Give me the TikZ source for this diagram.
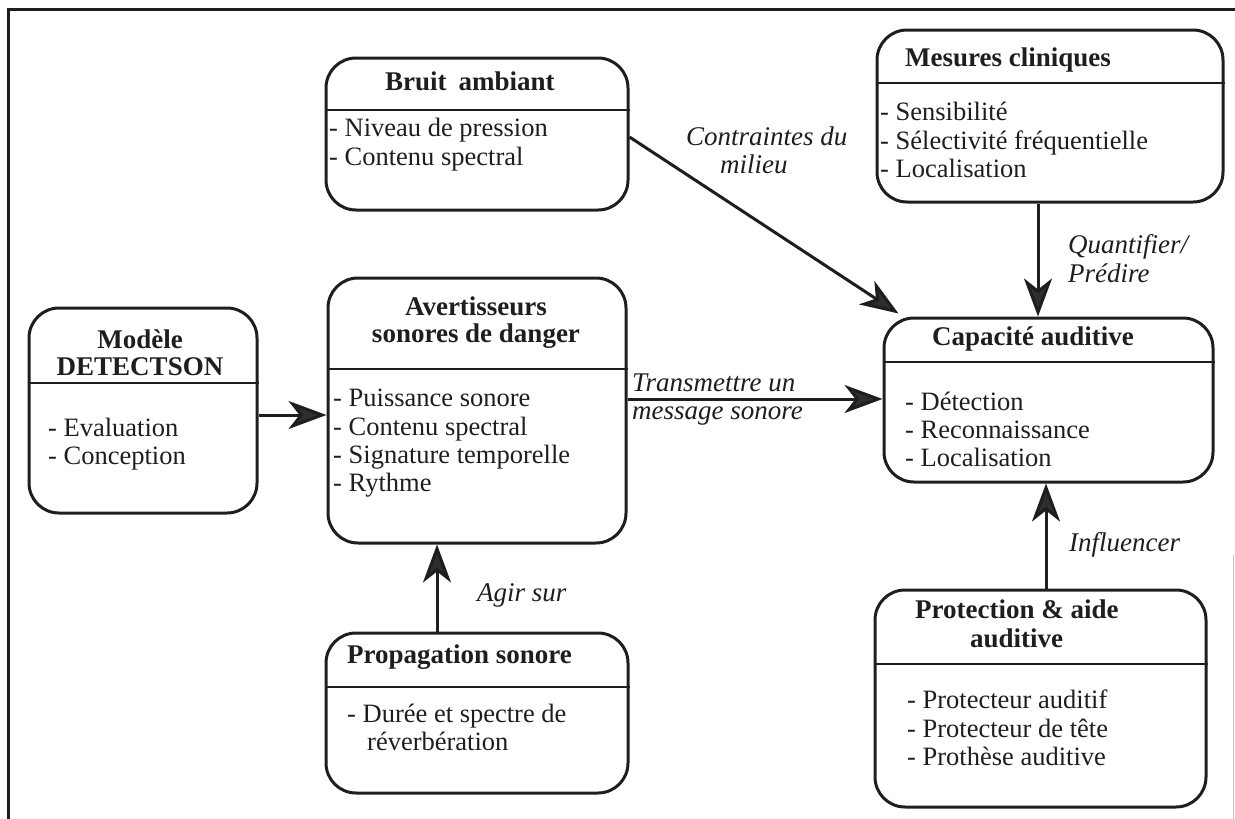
\documentclass[tikz,border=0pt]{standalone}
\usepackage{fontspec}
\setmainfont{Liberation Serif}
\usetikzlibrary{arrows.meta,calc}
\definecolor{ink}{HTML}{1E1E1E}
\definecolor{arrowgray}{HTML}{2E2E2E}
\begin{document}
\begin{tikzpicture}[x=1pt,y=-1pt,
  box/.style={draw=ink, line width=3pt, rounded corners=30pt, inner sep=0pt},
  txt/.style={anchor=base west, inner sep=0pt, font=\fontsize{26.5}{28}\selectfont, text=ink},
  ttl/.style={anchor=base west, inner sep=0pt, font=\fontsize{27}{28}\selectfont\bfseries, text=ink},
  ttc/.style={ttl, anchor=base},
  lbl/.style={anchor=base west, inner sep=0pt, font=\fontsize{27}{28}\selectfont\itshape, text=ink},
  arr/.style={draw=ink, line width=3pt, -{Stealth[length=38pt,width=28pt,inset=11pt,fill=arrowgray]}},
  divider/.style={draw=ink, line width=2.8pt}
]
\useasboundingbox (0,0) rectangle (1235,819);
% frame
\draw[ink, line width=3pt] (8,819) -- (8,9) -- (1235,9);
\draw[gray!45, line width=1pt] (1233,555) -- (1233,819);

% boxes
\node[box, minimum width=302pt, minimum height=152pt] (bruit) at (477,134) {};
\node[box, minimum width=346pt, minimum height=172pt] (mesures) at (1050,116) {};
\node[box, minimum width=228pt, minimum height=205pt] (modele) at (143,410.5) {};
\node[box, minimum width=298pt, minimum height=265pt] (avert) at (477,410.5) {};
\node[box, minimum width=329pt, minimum height=164pt] (capac) at (1048.5,400) {};
\node[box, minimum width=302pt, minimum height=160pt] (propa) at (477,713) {};
\node[box, minimum width=331pt, minimum height=217pt] (protec) at (1040.5,698.5) {};

% dividers
\draw[divider] (bruit.west |- 0,110) -- (bruit.east |- 0,110);
\draw[divider] (mesures.west |- 0,83) -- (mesures.east |- 0,83);
\draw[divider] (modele.west |- 0,383) -- (modele.east |- 0,383);
\draw[divider] (avert.west |- 0,369) -- (avert.east |- 0,369);
\draw[divider] (capac.west |- 0,362) -- (capac.east |- 0,362);
\draw[divider] (propa.west |- 0,687) -- (propa.east |- 0,687);
\draw[divider] (protec.west |- 0,664) -- (protec.east |- 0,664);

% texts: Bruit ambiant
\node[ttl] (bruitT) at (385,90) {Bruit\;\,ambiant};
\node[txt] (bruit1) at (329,136) {- Niveau de pression};
\node[txt] (bruit2) at (329,165) {- Contenu spectral};
% Mesures cliniques
\node[ttl] (mesT) at (905,66) {Mesures cliniques};
\node[txt] (mes1) at (880,120) {- Sensibilité};
\node[txt] (mes2) at (880,149) {- Sélectivité fréquentielle};
\node[txt] (mes3) at (880,177) {- Localisation};
% Modele
\node[ttc] (modT1) at (140,348) {Modèle};
\node[ttc] (modT2) at (140,375) {DETECTSON};
\node[txt] (mod1) at (48,436) {- Evaluation};
\node[txt] (mod2) at (48,464) {- Conception};
% Avertisseurs
\node[ttc] (avT1) at (476,315) {Avertisseurs};
\node[ttc] (avT2) at (476,342) {sonores de danger};
\node[txt] (av1) at (333,406) {- Puissance sonore};
\node[txt] (av2) at (333,435) {- Contenu spectral};
\node[txt] (av3) at (333,463) {- Signature temporelle};
\node[txt] (av4) at (333,491) {- Rythme};
% Propagation
\node[ttl] (prT) at (347,663) {Propagation sonore};
\node[txt] (pr1) at (347,722) {- Durée et spectre de};
\node[txt] (pr2) at (367,750) {réverbération};
% Capacite
\node[ttl] (caT) at (932,345) {Capacité auditive};
\node[txt] (ca1) at (905,410) {- Détection};
\node[txt] (ca2) at (905,438) {- Reconnaissance};
\node[txt] (ca3) at (905,466) {- Localisation};
% Protection
\node[ttl] (ptT1) at (915,618) {Protection \& aide};
\node[ttl] (ptT2) at (970,647) {auditive};
\node[txt] (pt1) at (907,708) {- Protecteur auditif};
\node[txt] (pt2) at (907,737) {- Protecteur de tête};
\node[txt] (pt3) at (907,765) {- Prothèse auditive};

% connectors
\coordinate (mS) at ([yshift=-4.5pt]modele.east);
\draw[arr] (mS) -- (mS -| avert.west);
\coordinate (aS) at ([yshift=11.5pt]avert.east);
\draw[arr] (aS) -- (aS -| capac.west);
\coordinate (bS) at ([yshift=-3pt]bruit.east);
\coordinate (bE) at ([xshift=16pt,yshift=3pt]capac.north west);
\draw[arr] (bS) -- (bE);
\coordinate (qS) at ([xshift=-12pt]mesures.south);
\draw[arr] (qS) -- (qS |- capac.north);
\coordinate (pS) at ([xshift=5.5pt]protec.north);
\draw[arr] (pS) -- (pS |- capac.south);
\coordinate (gS) at ([xshift=-40pt]propa.north);
\draw[arr] (gS) -- (gS |- avert.south);

% labels
\node[lbl] (l1a) at (686,145) {Contraintes du};
\node[lbl] (l1b) at (720,173) {milieu};
\node[lbl] (l2a) at (1068,253) {Quantifier/};
\node[lbl] (l2b) at (1068,282) {Prédire};
\node[lbl] (l3a) at (632,391) {Transmettre un};
\node[lbl] (l3b) at (632,419) {message sonore};
\node[lbl] (l4) at (477,601) {Agir sur};
\node[lbl] (l5) at (1069,551) {Influencer};
\end{tikzpicture}
\end{document}
